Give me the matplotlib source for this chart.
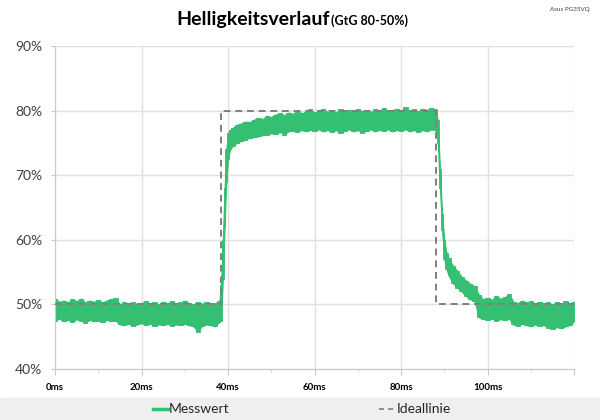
import matplotlib
matplotlib.use("Agg")
from matplotlib import pyplot as plt
from matplotlib.lines import Line2D
from matplotlib.patches import Rectangle
from matplotlib.ticker import MultipleLocator, FuncFormatter

plt.rcParams['font.family'] = ['Lato', 'DejaVu Sans']

time_ms = [
    0, 1, 2, 3, 4, 5, 6, 7, 8, 9, 10, 11, 12, 13, 14, 15, 16, 17, 18, 19,
    20, 21, 22, 23, 24, 25, 26, 27, 28, 29, 30, 31, 32, 33, 34, 35, 36, 37, 38,
    38.4, 38.8, 39.2, 39.6, 40.0, 40.5,
    41, 42, 43, 44, 45, 46, 47, 48, 49, 50, 51, 52, 53, 54, 55, 56, 57, 58, 59,
    60, 61, 62, 63, 64, 65, 66, 67, 68, 69, 70, 71, 72, 73, 74, 75, 76, 77, 78, 79,
    80, 81, 82, 83, 84, 85, 86, 87, 88,
    88.5, 89.0, 89.5, 90.0, 90.5,
    91, 92, 93, 94, 95, 96, 97, 98, 99, 100, 101, 102, 103, 104, 105, 106, 107, 108, 109,
    110, 111, 112, 113, 114, 115, 116, 117, 118, 119, 120,
]
upper = [
    50.9, 50.4, 50.6, 50.3, 50.8, 50.5, 50.9, 50.3, 50.6, 50.4, 50.7, 50.3, 50.6, 50.8, 51.0, 50.0, 50.3, 50.1, 50.4, 50.0,
    50.2, 50.5, 50.1, 50.3, 50.0, 50.4, 50.2, 50.5, 50.1, 50.3, 50.6, 50.2, 50.0, 50.3, 50.1, 50.4, 50.0, 50.2, 50.5,
    53.0, 60.0, 68.0, 74.0, 76.5, 77.0,
    77.3, 77.8, 78.0, 78.3, 78.2, 78.6, 78.9, 78.7, 79.2, 79.0, 79.4, 79.6, 79.3, 79.7, 79.5, 80.0, 79.6, 79.8, 80.2,
    79.7, 79.9, 80.3, 79.8, 80.0, 79.7, 80.2, 79.9, 80.1, 79.8, 80.3, 79.9, 80.1, 79.8, 80.2, 80.0, 80.4, 79.9, 80.1, 80.3,
    79.9, 80.5, 80.0, 80.2, 79.9, 80.3, 80.1, 80.4, 80.2,
    78.5, 71.0, 64.0, 60.0, 58.0,
    57.2, 56.0, 55.2, 54.3, 53.7, 53.2, 52.8, 51.5, 50.8, 51.0, 50.7, 51.3, 50.9, 51.1, 51.6, 50.4, 50.2, 50.6, 50.3,
    50.5, 50.1, 50.4, 50.2, 50.3, 50.0, 50.4, 50.1, 50.5, 50.2, 50.4,
]
lower = [
    47.5, 47.8, 47.4, 47.6, 47.3, 47.7, 47.5, 47.2, 47.6, 47.4, 47.5, 47.3, 47.6, 47.4, 47.5, 46.9, 46.8, 47.0, 46.7, 46.9,
    47.1, 46.8, 47.0, 46.7, 46.9, 46.8, 47.0, 46.7, 46.9, 46.8, 47.0, 46.8, 46.6, 45.8, 46.7, 46.9, 46.8, 46.6, 47.3,
    47.5, 54.0, 62.0, 69.0, 72.5, 74.0,
    74.5, 75.0, 75.3, 75.5, 75.8, 75.9, 76.0, 76.2, 76.3, 76.5, 76.4, 76.7, 76.3, 76.8, 76.9, 76.7, 77.0, 76.8, 77.0,
    76.9, 77.1, 76.8, 77.0, 76.7, 77.0, 76.5, 76.9, 77.1, 76.8, 77.0, 76.6, 76.9, 77.1, 76.8, 77.0, 76.9, 77.1, 76.8, 77.0,
    76.9, 77.1, 76.8, 77.0, 76.7, 77.0, 76.8, 77.1, 77.0,
    75.0, 68.0, 61.5, 57.0, 55.5,
    54.5, 53.3, 52.6, 52.0, 51.3, 50.8, 50.5, 48.0, 47.8, 47.6, 47.8, 47.5, 47.7, 47.6, 47.8, 46.9, 46.7, 47.0, 46.8,
    46.6, 46.9, 46.7, 46.8, 46.4, 46.2, 46.5, 46.3, 46.6, 46.8, 47.4,
]

# Ideal step response (Ideallinie)
ideal_time = [0, 38.3, 38.3, 88.0, 88.0, 120]
ideal_level = [50, 50, 80, 80, 50, 50]

GREEN = '#35bf72'
GREY = '#7f7f7f'

fig = plt.figure(figsize=(6, 4.2), dpi=100)
ax = fig.add_axes([0.0917, 0.1214, 0.865, 0.769])

# smooth band keeps the transitions continuous, stepped band gives the spiky noise edge
ax.fill_between(time_ms, lower, upper, color=GREEN, lw=0.8, edgecolor=GREEN, zorder=2)
ax.fill_between(time_ms, lower, upper, step='mid', color=GREEN, lw=0.6, edgecolor=GREEN, zorder=2)
ax.plot(ideal_time, ideal_level, color=GREY, lw=1.4, dashes=(3.5, 2.5), zorder=3)

ax.set_xlim(0, 120)
ax.set_ylim(40, 90)
ax.xaxis.set_major_locator(MultipleLocator(20))
ax.xaxis.set_minor_locator(MultipleLocator(10))
ax.yaxis.set_major_locator(MultipleLocator(10))
ax.xaxis.set_major_formatter(FuncFormatter(lambda v, p: f"{v:.0f}ms" if v < 119 else ""))
ax.yaxis.set_major_formatter(FuncFormatter(lambda v, p: f"{v:.0f}%"))

ax.grid(True, which='major', color='#e0e0e0', lw=1, zorder=0)
ax.set_axisbelow(True)
for side in ('top', 'right'):
    ax.spines[side].set_visible(False)
for side in ('left', 'bottom'):
    ax.spines[side].set_color('#c8c8c8')
ax.tick_params(axis='x', which='major', length=4, color='#c8c8c8', labelsize=7, pad=6, labelcolor='#000000')
ax.tick_params(axis='x', which='minor', length=2.5, color='#c8c8c8')
ax.tick_params(axis='y', length=3, color='#c8c8c8', labelsize=10, labelcolor='#404040', pad=6)
for lbl in ax.get_xticklabels():
    lbl.set_fontweight('bold')

# title
fig.text(330 / 600, 1 - 25 / 420, "Helligkeitsverlauf", ha='right', va='baseline',
         fontsize=14, fontweight='bold')
fig.text(331 / 600, 1 - 25 / 420, "(GtG 80-50%)", ha='left', va='baseline',
         fontsize=9, fontweight='bold')
fig.text(590 / 600, 1 - 9 / 420, "Asus PG35VQ", ha='right', va='center', fontsize=4.5, color='#404040')

# legend band at the bottom
fig.add_artist(Rectangle((0, 0), 1, 22 / 420, transform=fig.transFigure, color='#efefef', zorder=0))
ly = 1 - 409 / 420
fig.add_artist(Line2D([153 / 600, 168 / 600], [ly, ly], transform=fig.transFigure, color=GREEN, lw=2.5))
fig.text(169 / 600, ly, "Messwert", ha='left', va='center', fontsize=10, color='#262626')
fig.add_artist(Line2D([379 / 600, 395 / 600], [ly, ly], transform=fig.transFigure, color=GREY, lw=1.2,
                      dashes=(3, 2.5)))
fig.text(397 / 600, ly, "Ideallinie", ha='left', va='center', fontsize=10, color='#262626')

fig.savefig("out.png", dpi=100)
